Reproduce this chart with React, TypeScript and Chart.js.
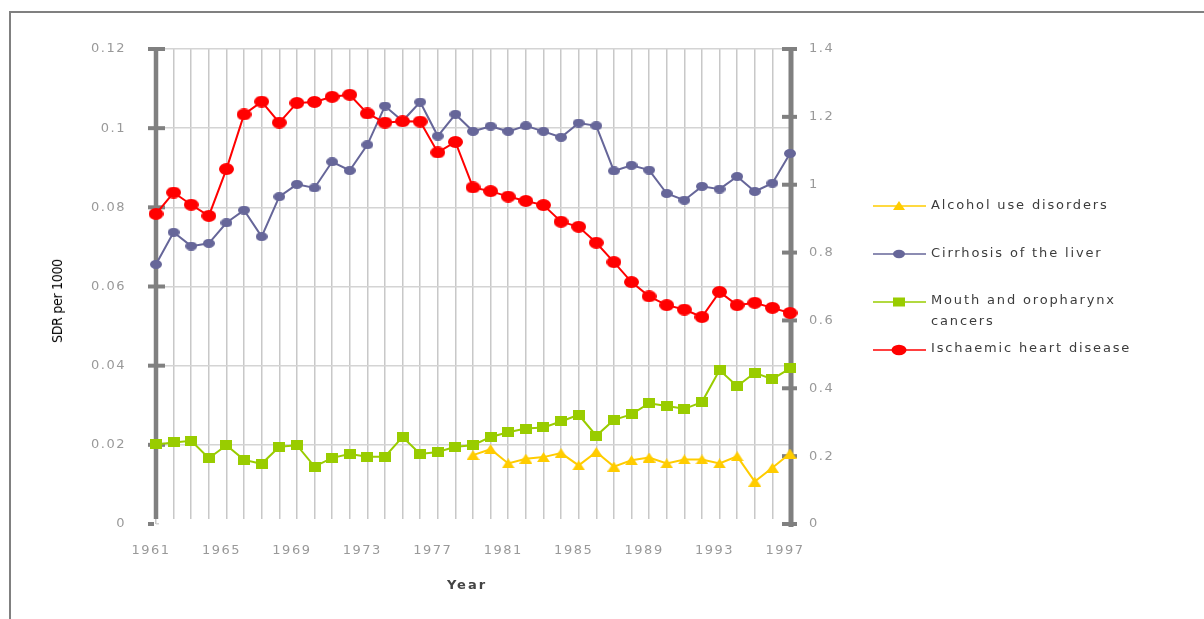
import React, { useEffect, useRef } from "react";
import { Chart, registerables } from "chart.js";

Chart.register(...registerables);

const years = [
  "1961", "1962", "1963", "1964", "1965", "1966", "1967", "1968", "1969", "1970",
  "1971", "1972", "1973", "1974", "1975", "1976", "1977", "1978", "1979", "1980",
  "1981", "1982", "1983", "1984", "1985", "1986", "1987", "1988", "1989", "1990",
  "1991", "1992", "1993", "1994", "1995", "1996", "1997",
];

const alcoholUseDisorders = [
  null, null, null, null, null, null, null, null, null, null,
  null, null, null, null, null, null, null, null, 0.0174, 0.0189,
  0.0153, 0.0165, 0.0169, 0.0179, 0.0148, 0.0182, 0.0145, 0.0161, 0.0168, 0.0153,
  0.0163, 0.0163, 0.0153, 0.0171, 0.0107, 0.0142, 0.0178,
];

const cirrhosisOfTheLiver = [
  0.0656, 0.0737, 0.0702, 0.0709, 0.0761, 0.0793, 0.0726, 0.0827, 0.0858, 0.0849,
  0.0915, 0.0893, 0.0958, 0.1056, 0.1018, 0.1066, 0.098, 0.1035, 0.0992, 0.1005,
  0.0992, 0.1006, 0.0992, 0.0977, 0.1013, 0.1006, 0.0892, 0.0906, 0.0894, 0.0835,
  0.0818, 0.0853, 0.0846, 0.0878, 0.084, 0.0861, 0.0936,
];

const mouthAndOropharynxCancers = [
  0.0201, 0.0206, 0.021, 0.0166, 0.0199, 0.0162, 0.0152, 0.0195, 0.0199, 0.0145,
  0.0167, 0.0177, 0.017, 0.017, 0.022, 0.0177, 0.0182, 0.0195, 0.0199, 0.022,
  0.0232, 0.0241, 0.0244, 0.0259, 0.0276, 0.0223, 0.0263, 0.0277, 0.0305, 0.0298,
  0.0291, 0.0308, 0.0389, 0.0348, 0.0382, 0.0366, 0.0393,
];

const ischaemicHeartDisease = [
  0.914, 0.977, 0.941, 0.908, 1.046, 1.207, 1.245, 1.183, 1.241, 1.244,
  1.259, 1.265, 1.21, 1.183, 1.187, 1.186, 1.095, 1.126, 0.992, 0.981,
  0.965, 0.952, 0.94, 0.891, 0.876, 0.829, 0.772, 0.713, 0.671, 0.645,
  0.632, 0.61, 0.684, 0.645, 0.652, 0.637, 0.622,
];

const seriesNames = [
  "Alcohol use disorders",
  "Cirrhosis of the liver",
  "Mouth and oropharynx cancers",
  "Ischaemic heart disease",
];
const seriesColors = ["#ffcc00", "#666699", "#99cc00", "#ff0000"];

const leftTickStep = 0.02;
const leftMax = 0.12;
const rightTickStep = 0.2;
const rightMax = 1.4;

function makeMarker(kind: string, w: number, h: number, color: string) {
  const c = document.createElement("canvas");
  c.width = w;
  c.height = h;
  const ctx = c.getContext("2d")!;
  ctx.fillStyle = color;
  ctx.beginPath();
  if (kind === "ellipse") {
    ctx.ellipse(w / 2, h / 2, w / 2, h / 2, 0, 0, Math.PI * 2);
  } else if (kind === "rect") {
    ctx.rect(0, 0, w, h);
  } else {
    ctx.moveTo(w / 2, 0);
    ctx.lineTo(w, h);
    ctx.lineTo(0, h);
    ctx.closePath();
  }
  ctx.fill();
  return c;
}

const axisPlugin = {
  id: "axisPlugin",
  beforeDraw(chart: any) {
    chart.ctx.letterSpacing = "1.5px";
  },
  beforeDatasetsDraw(chart: any) {
    const { ctx, chartArea, scales } = chart;
    const { left, right, top, bottom } = chartArea;
    ctx.save();
    // mask the bottom few px of the vertical gridlines, as in the reference
    ctx.fillStyle = "#ffffff";
    ctx.fillRect(left + 3, bottom - 5, right - left - 5, 6);
    ctx.strokeStyle = "#808080";
    ctx.lineCap = "butt";
    ctx.lineWidth = 4.5;
    ctx.beginPath();
    ctx.moveTo(left, top - 2);
    ctx.lineTo(left, bottom - 5);
    ctx.stroke();
    ctx.lineWidth = 5;
    ctx.beginPath();
    ctx.moveTo(right + 1, top - 2);
    ctx.lineTo(right + 1, bottom + 3);
    ctx.stroke();
    ctx.lineWidth = 4;
    scales.y.ticks.forEach((t: any) => {
      const py = scales.y.getPixelForValue(t.value);
      ctx.beginPath();
      ctx.moveTo(left - 8, py);
      ctx.lineTo(t.value === 0 ? left - 2 : left + 9, py);
      ctx.stroke();
    });
    scales.y1.ticks.forEach((t: any) => {
      const py = scales.y1.getPixelForValue(t.value);
      ctx.beginPath();
      ctx.moveTo(right - 8, py);
      ctx.lineTo(right + 7, py);
      ctx.stroke();
    });
    ctx.restore();
  },
};

function LegendMarker({ index }: { index: number }) {
  const color = seriesColors[index];
  let marker: any = null;
  if (index === 0) marker = <polygon points="26,3 32,12 20,12" fill={color} />;
  if (index === 1) marker = <ellipse cx="26" cy="8" rx="6" ry="4.2" fill={color} />;
  if (index === 2) marker = <rect x="20" y="3.5" width="12" height="9" fill={color} />;
  if (index === 3) marker = <ellipse cx="26" cy="8" rx="7.5" ry="5.2" fill={color} />;
  return (
    <svg width="53" height="16" style={{ display: "block" }}>
      <line x1="0" y1="8" x2="53" y2="8" stroke={color} strokeWidth="1.5" />
      {marker}
    </svg>
  );
}

export default function App() {
  const canvasRef = useRef<HTMLCanvasElement | null>(null);

  useEffect(() => {
    const canvas = canvasRef.current;
    if (!canvas) return;
    const tri = makeMarker("tri", 13, 10, seriesColors[0]);
    const blueDot = makeMarker("ellipse", 12, 9, seriesColors[1]);
    const sq = makeMarker("rect", 12, 10, seriesColors[2]);
    const redDot = makeMarker("ellipse", 15, 12, seriesColors[3]);

    const tickFont = { family: "'DejaVu Sans', sans-serif", size: 13 };

    const chart = new Chart(canvas, {
      type: "line",
      data: {
        labels: years,
        datasets: [
          {
            label: seriesNames[0],
            data: alcoholUseDisorders,
            borderColor: seriesColors[0],
            backgroundColor: seriesColors[0],
            borderWidth: 2,
            pointStyle: tri as any,
            pointRadius: 6,
            yAxisID: "y",
            order: 1,
            spanGaps: false,
          },
          {
            label: seriesNames[1],
            data: cirrhosisOfTheLiver,
            borderColor: seriesColors[1],
            backgroundColor: seriesColors[1],
            borderWidth: 2,
            pointStyle: blueDot as any,
            pointRadius: 6,
            yAxisID: "y",
            order: 3,
          },
          {
            label: seriesNames[2],
            data: mouthAndOropharynxCancers,
            borderColor: seriesColors[2],
            backgroundColor: seriesColors[2],
            borderWidth: 2,
            pointStyle: sq as any,
            pointRadius: 6,
            yAxisID: "y",
            order: 2,
          },
          {
            label: seriesNames[3],
            data: ischaemicHeartDisease,
            borderColor: seriesColors[3],
            backgroundColor: seriesColors[3],
            borderWidth: 2,
            pointStyle: redDot as any,
            pointRadius: 7,
            yAxisID: "y1",
            order: 0,
          },
        ],
      },
      options: {
        animation: false,
        responsive: false,
        events: [],
        layout: { padding: { top: 49, left: 0, right: 0, bottom: 0 }, autoPadding: false } as any,
        plugins: {
          legend: { display: false },
          tooltip: { enabled: false },
          title: { display: false },
        },
        elements: { line: { tension: 0 } },
        scales: {
          x: {
            type: "category",
            offset: false,
            border: { display: false },
            grid: { color: "#c8c8c8", lineWidth: 1.5, drawTicks: false },
            ticks: {
              autoSkip: false,
              maxRotation: 0,
              minRotation: 0,
              padding: 19,
              labelOffset: -5,
              color: "#999999",
              font: tickFont,
              callback: (_v: any, i: number) => (i % 4 === 0 ? years[i] : ""),
            },
            afterFit: (s: any) => {
              s.height = 95;
            },
          },
          y: {
            type: "linear",
            position: "left",
            min: 0,
            max: leftMax,
            border: { display: false },
            grid: { color: "#d4d4d4", lineWidth: 1.5, drawTicks: false },
            ticks: {
              stepSize: leftTickStep,
              padding: 30,
              color: "#999999",
              font: tickFont,
              callback: (v: any) => String(Number(Number(v).toFixed(3))),
            },
            afterFit: (s: any) => {
              s.width = 156;
            },
          },
          y1: {
            type: "linear",
            position: "right",
            min: 0,
            max: rightMax,
            border: { display: false },
            grid: { drawOnChartArea: false, drawTicks: false },
            ticks: {
              stepSize: rightTickStep,
              padding: 19,
              color: "#999999",
              font: tickFont,
              callback: (v: any) => String(Number(Number(v).toFixed(2))),
            },
            afterFit: (s: any) => {
              s.width = 414;
            },
          },
        },
      } as any,
      plugins: [axisPlugin],
    });
    return () => chart.destroy();
  }, []);

  const legendRows = [
    { line: 206, text: 204 },
    { line: 254, text: 252 },
    { line: 302, text: 299 },
    { line: 350, text: 347 },
  ];

  const legendText: React.CSSProperties = {
    position: "absolute",
    left: 931,
    fontFamily: "'DejaVu Sans', sans-serif",
    fontSize: 13,
    letterSpacing: "1.85px",
    color: "#3c3c3c",
    lineHeight: "21px",
    whiteSpace: "nowrap",
  };

  return (
    <div style={{ position: "fixed", left: 0, top: 0, width: 1204, height: 619, overflow: "hidden", background: "#ffffff" }}>
      <div
        style={{
          position: "absolute",
          left: 9,
          top: 11,
          width: 3000,
          height: 3000,
          borderTop: "2px solid #808080",
          borderLeft: "2px solid #808080",
        }}
      />
      <canvas
        ref={canvasRef}
        width={1204}
        height={619}
        style={{ position: "absolute", left: 0, top: 0, width: 1204, height: 619 }}
      />
      <div
        style={{
          position: "absolute",
          left: 57,
          top: 301,
          transform: "translate(-50%, -50%) rotate(-90deg)",
          fontFamily: "'Liberation Sans Narrow', 'DejaVu Sans Condensed', 'Liberation Sans', sans-serif",
          fontSize: 14,
          letterSpacing: "-0.3px",
          color: "#000000",
          whiteSpace: "nowrap",
          lineHeight: "16px",
        }}
      >
        SDR per 1000
      </div>
      <div
        style={{
          position: "absolute",
          left: 467,
          top: 585,
          transform: "translate(-50%, -50%)",
          fontFamily: "'DejaVu Sans', sans-serif",
          fontSize: 13,
          fontWeight: "bold",
          letterSpacing: "2px",
          color: "#444444",
          whiteSpace: "nowrap",
          lineHeight: "16px",
        }}
      >
        Year
      </div>
      {legendRows.map((r, i) => (
        <React.Fragment key={seriesNames[i]}>
          <div style={{ position: "absolute", left: 873, top: r.line - 8 }}>
            <LegendMarker index={i} />
          </div>
          <div style={{ ...legendText, top: r.text - 10.5 }}>
            {i === 2 ? (
              <>
                Mouth and oropharynx
                <br />
                cancers
              </>
            ) : (
              seriesNames[i]
            )}
          </div>
        </React.Fragment>
      ))}
    </div>
  );
}
